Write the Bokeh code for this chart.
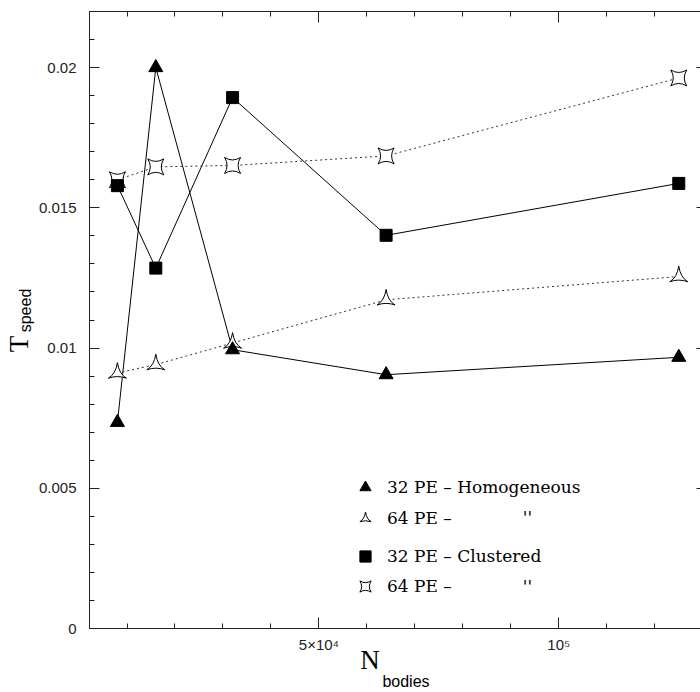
from bokeh.plotting import figure
from bokeh.models import FixedTicker, LinearAxis, Range1d, Legend, LegendItem, Label
from bokeh.embed import file_html
from bokeh.resources import INLINE

# ---- data ----
n_bodies = [8000, 16000, 32000, 64000, 125000]
hom_32 = [0.00735, 0.02000, 0.00994, 0.00905, 0.00967]
hom_64 = [0.00911, 0.00941, 0.01018, 0.01172, 0.01255]
clu_32 = [0.01579, 0.01285, 0.01893, 0.01402, 0.01587]
clu_64 = [0.01600, 0.01646, 0.01651, 0.01685, 0.01963]

x_ticks = [50000, 100000]
x_tick_labels = ["5×10⁴", "10⁵"]
x_minor = [10000 * i for i in range(1, 13)]
y_ticks = [0, 0.005, 0.01, 0.015, 0.02]
y_tick_labels = ["0", "0.005", "0.01", "0.015", "0.02"]
y_minor = [round(0.001 * i, 3) for i in range(0, 23)]

legend_labels = ["32 PE – Homogeneous", "64 PE –", "32 PE – Clustered", "64 PE –"]
ditto = "''"
y_title, y_sub = "T", "speed"
x_title, x_sub = "N", "bodies"

# ---- layout (pixels) ----
W, H = 700, 692
BL, BR, BT, BB = 89, 0, 11, 63
X0, X1 = 2180, 129530
Y0, Y1 = 0.0, 0.022
FL, FR, FT, FB = BL, W - BR, BT, H - BB


def dx(px):
    return X0 + (px - FL) / (FR - FL) * (X1 - X0)


def dy(py):
    return Y0 + (FB - py) / (FB - FT) * (Y1 - Y0)


p = figure(width=W, height=H, x_range=Range1d(X0, X1), y_range=Range1d(Y0, Y1),
           x_axis_type=None, y_axis_type=None,
           output_backend="svg", toolbar_location=None,
           min_border_left=BL, min_border_right=BR, min_border_top=BT, min_border_bottom=BB)
p.outline_line_color = None
p.background_fill_color = "white"
p.border_fill_color = "white"
p.xgrid.visible = False
p.ygrid.visible = False

AX = "#222222"


def style(ax, maj_in, min_in):
    ax.major_tick_in = maj_in
    ax.major_tick_out = 0
    ax.minor_tick_in = min_in
    ax.minor_tick_out = 0
    ax.axis_line_color = AX
    ax.major_tick_line_color = AX
    ax.minor_tick_line_color = AX
    ax.major_label_text_font = "Liberation Sans"
    ax.major_label_text_font_size = "15px"
    ax.major_label_text_color = "#222222"


def bare(ax):
    ax.axis_line_color = None
    ax.major_tick_line_color = None
    ax.minor_tick_line_color = None
    ax.major_tick_in = 0
    ax.major_tick_out = 0
    ax.minor_tick_in = 0
    ax.minor_tick_out = 0
    ax.major_label_text_color = "black"


# bottom axis with labels
bottom = LinearAxis(ticker=FixedTicker(ticks=x_ticks, minor_ticks=x_minor),
                    major_label_overrides=dict(zip(x_ticks, x_tick_labels)))
style(bottom, 11, 5)
bottom.major_label_standoff = 7
p.add_layout(bottom, "below")

# x title: "N" then subscript "bodies"
xn = dx(369.5)
ax_n = LinearAxis(ticker=FixedTicker(ticks=[xn]), major_label_overrides={xn: x_title})
bare(ax_n)
ax_n.major_label_text_font = "Liberation Serif"
ax_n.major_label_text_font_size = "27px"
ax_n.major_label_standoff = -11
p.add_layout(ax_n, "below")

xb = dx(405.5)
ax_b = LinearAxis(ticker=FixedTicker(ticks=[xb]), major_label_overrides={xb: x_sub})
bare(ax_b)
ax_b.major_label_text_font = "Liberation Sans"
ax_b.major_label_text_font_size = "16px"
ax_b.major_label_standoff = -5
p.add_layout(ax_b, "below")

# top: tick marks only (no labels)
top_minor = LinearAxis(ticker=FixedTicker(ticks=[], minor_ticks=x_minor))
style(top_minor, 0, 5)
top_minor.major_label_standoff = 0
p.add_layout(top_minor, "above")
top_major = LinearAxis(ticker=FixedTicker(ticks=[], minor_ticks=x_ticks))
style(top_major, 0, 11)
top_major.major_label_standoff = 0
p.add_layout(top_major, "above")

# left axis with labels
left = LinearAxis(ticker=FixedTicker(ticks=y_ticks, minor_ticks=y_minor),
                  major_label_overrides=dict(zip(y_ticks, y_tick_labels)))
style(left, 10, 5)
left.major_label_standoff = 13
p.add_layout(left, "left")

# y title: subscript "speed" and "T"
ys = dy(310.5)
ax_s = LinearAxis(ticker=FixedTicker(ticks=[ys]), major_label_overrides={ys: y_sub})
bare(ax_s)
ax_s.major_label_text_font = "Liberation Sans"
ax_s.major_label_text_font_size = "16px"
ax_s.major_label_orientation = "vertical"
ax_s.major_label_standoff = 1
p.add_layout(ax_s, "left")

yt_ = dy(344)
ax_t = LinearAxis(ticker=FixedTicker(ticks=[yt_]), major_label_overrides={yt_: y_title})
bare(ax_t)
ax_t.major_label_text_font = "Liberation Serif"
ax_t.major_label_text_font_size = "27px"
ax_t.major_label_orientation = "vertical"
ax_t.major_label_standoff = -20
p.add_layout(ax_t, "left")

# right: short stubs of the major ticks only
right = LinearAxis(ticker=FixedTicker(ticks=[], minor_ticks=y_ticks))
style(right, 0, 4)
right.axis_line_color = None
right.major_label_standoff = 0
p.add_layout(right, "right")

# ---- series ----
dot = "2 3"
p.line(n_bodies, hom_32, line_color="black", line_width=1)
p.line(n_bodies, clu_32, line_color="black", line_width=1)
p.line(n_bodies, hom_64, line_color="#333333", line_width=1, line_dash=dot)
p.line(n_bodies, clu_64, line_color="#333333", line_width=1, line_dash=dot)

r4 = p.scatter(n_bodies, clu_64, marker="square_pin", size=16, fill_color="white", line_color="black")
r2 = p.scatter(n_bodies, hom_64, marker="triangle_pin", size=18, fill_color="white", line_color="black")
r1 = p.scatter(n_bodies, hom_32, marker="triangle", size=14, fill_color="black", line_color="black")
r3 = p.scatter(n_bodies, clu_32, marker="square", size=12, fill_color="black", line_color="black")


def mk_legend(items, loc, spacing):
    return Legend(items=items, location=loc, spacing=spacing, padding=0, margin=0,
                  glyph_width=28, glyph_height=28, label_height=28, label_standoff=8,
                  label_text_font="DejaVu Serif", label_text_font_size="17px",
                  label_text_color="black", border_line_color=None, background_fill_alpha=0)


leg1 = mk_legend([LegendItem(label=legend_labels[0], renderers=[r1]),
                  LegendItem(label=legend_labels[1], renderers=[r2])], (262, 96), 3)
leg2 = mk_legend([LegendItem(label=legend_labels[2], renderers=[r3]),
                  LegendItem(label=legend_labels[3], renderers=[r4])], (262, 28), 2)
p.add_layout(leg1)
p.add_layout(leg2)

for yy in (517, 586):
    p.add_layout(Label(x=dx(527), y=dy(yy), text=ditto, text_align="center", text_baseline="middle",
                       text_font="DejaVu Serif", text_font_size="17px", text_color="black"))

open("out.html", "w").write(file_html(p, INLINE))
